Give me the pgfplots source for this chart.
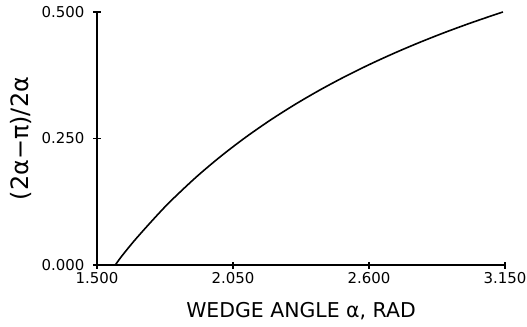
\documentclass[border=0pt]{standalone}
\usepackage{fontspec}
\setmainfont{DejaVu Sans}
\usepackage{pgfplots}
\pgfplotsset{compat=1.18}
\begin{document}
\begin{tikzpicture}[x=1bp,y=1bp]
\begin{axis}[
  at={(0,0)}, anchor=south west,
  scale only axis,
  width=408bp, height=253bp,
  xmin=1.5, xmax=3.15, ymin=0, ymax=0.5,
  axis x line*=bottom, axis y line*=left,
  axis line style={line width=1.6bp},
  xtick={1.5,2.05,2.6,3.15},
  ytick={0,0.25,0.5},
  xticklabels={1.500,2.050,2.600,3.150},
  yticklabels={0.000,0.250,0.500},
  tick align=center,
  major tick length=7bp,
  tick style={line width=1.4bp, black},
  ticklabel style={font=\fontsize{15}{17}\selectfont, inner sep=0pt},
  xticklabel style={anchor=north, yshift=-4bp},
  yticklabel style={anchor=east, xshift=-9bp},
  xlabel={WEDGE ANGLE α, RAD},
  ylabel={(2α−π)/2α},
  xlabel style={font=\fontsize{20.5}{24}\selectfont, inner sep=0pt,
    at={([yshift=-37bp]axis description cs:0.5,0)}, anchor=north},
  ylabel style={font=\fontsize{24}{27}\selectfont, inner sep=0pt,
    at={([xshift=-65bp]axis description cs:0,0.5)}, anchor=south},
  clip=false,
]
\addplot[black, line width=1.6bp, smooth] coordinates {
(1.5740,0) (1.6,0.0175) (1.65,0.0475) (1.7,0.0752) (1.75,0.1020) (1.8,0.12734) (1.9,0.17327)
(2.0,0.21460) (2.1,0.25200) (2.2,0.28600) (2.3,0.31705) (2.4,0.34550)
(2.5,0.37168) (2.6,0.39585) (2.7,0.41822) (2.8,0.43900) (2.9,0.45835)
(3.0,0.47640) (3.1,0.49329) (3.1416,0.5)
};
\end{axis}
\path[use as bounding box] (-97,-61) rectangle (430,265);
\end{tikzpicture}
\end{document}
